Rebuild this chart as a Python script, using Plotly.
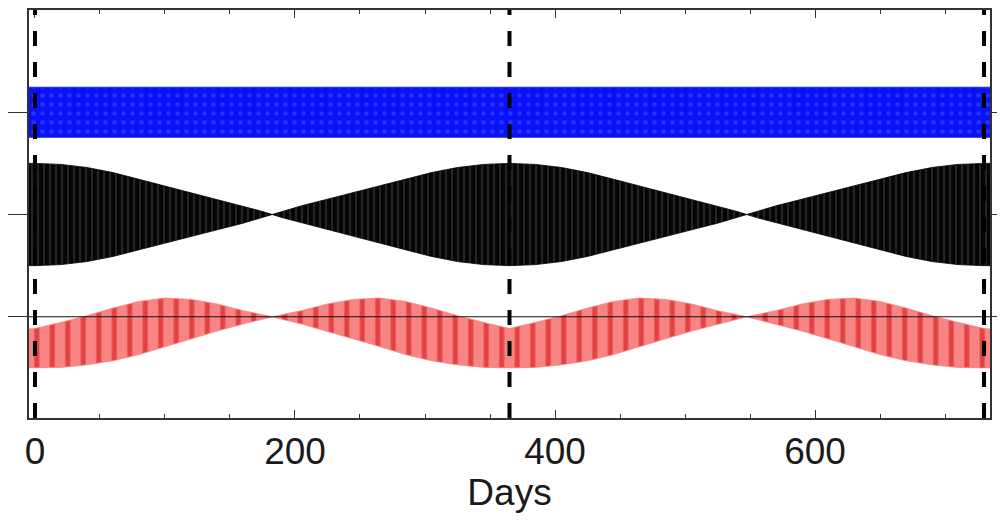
import plotly.graph_objects as go

# ---- data ----
days = [-5, 0, 20, 40, 60, 80, 100, 120, 140, 160, 175, 182.5,
        190, 205, 225, 245, 265, 285, 305, 325, 345, 365,
        385, 405, 425, 445, 465, 485, 505, 525, 540, 547.5,
        555, 570, 590, 610, 630, 650, 670, 690, 710, 730, 735]

red_upper = [-0.12, -0.115, -0.055, 0.01, 0.085, 0.15, 0.183, 0.17, 0.125, 0.06, 0.02, 0.0,
             0.02, 0.06, 0.125, 0.17, 0.183, 0.15, 0.085, 0.01, -0.055, -0.115,
             -0.055, 0.01, 0.085, 0.15, 0.183, 0.17, 0.125, 0.06, 0.02, 0.0,
             0.02, 0.06, 0.125, 0.17, 0.183, 0.15, 0.085, 0.01, -0.055, -0.115, -0.12]

red_lower = [-0.5, -0.5, -0.495, -0.47, -0.43, -0.37, -0.29, -0.215, -0.14, -0.07, -0.025, 0.0,
             -0.025, -0.07, -0.14, -0.215, -0.29, -0.37, -0.43, -0.47, -0.495, -0.5,
             -0.495, -0.47, -0.43, -0.37, -0.29, -0.215, -0.14, -0.07, -0.025, 0.0,
             -0.025, -0.07, -0.14, -0.215, -0.29, -0.37, -0.43, -0.47, -0.495, -0.5, -0.5]

black_half = [0.5, 0.5, 0.49, 0.46, 0.41, 0.345, 0.28, 0.215, 0.15, 0.085, 0.03, 0.0,
              0.03, 0.085, 0.15, 0.215, 0.28, 0.345, 0.41, 0.46, 0.49, 0.5,
              0.49, 0.46, 0.41, 0.345, 0.28, 0.215, 0.15, 0.085, 0.03, 0.0,
              0.03, 0.085, 0.15, 0.215, 0.28, 0.345, 0.41, 0.46, 0.49, 0.5, 0.5]

blue_days = [-5, 735]
blue_half = [0.245, 0.245]

band_centers = [2, 1, 0]          # blue, black, red
marker_days = [0, 365, 730]
x_ticks = [0, 200, 400, 600]

# ---- figure ----
fig = go.Figure()

def band(xs, lo, hi, fill, pattern, line_color):
    return go.Scatter(
        x=list(xs) + list(xs)[::-1],
        y=list(hi) + list(lo)[::-1],
        mode="lines", fill="toself",
        fillcolor=fill, fillpattern=pattern,
        line=dict(color=line_color, width=0.8),
        hoverinfo="skip", showlegend=False)

c_blue, c_black, c_red = band_centers

fig.add_trace(band(blue_days,
                   [c_blue - h for h in blue_half],
                   [c_blue + h for h in blue_half],
                   "#0a10fa",
                   dict(shape=".", fgcolor="#3a5cff", bgcolor="#0a10fa", size=9, solidity=0.2),
                   "#0a10fa"))

fig.add_trace(band(days,
                   [c_black - h for h in black_half],
                   [c_black + h for h in black_half],
                   "#000000",
                   dict(shape="|", fgcolor="#4a4a4a", bgcolor="#050505", size=6, solidity=0.3),
                   "#000000"))

fig.add_trace(band(days,
                   [c_red + v for v in red_lower],
                   [c_red + v for v in red_upper],
                   "#f88080",
                   dict(shape="|", fgcolor="#cc0000", bgcolor="#f88484", size=15.5, solidity=0.32),
                   "#f88080"))

shapes = [dict(type="line", xref="paper", yref="y", x0=0, x1=1, y0=c_red, y1=c_red,
               line=dict(color="#111", width=1.2), layer="above")]
for d in marker_days:
    shapes.append(dict(type="line", xref="x", yref="paper", x0=d, x1=d, y0=0, y1=1,
                       line=dict(color="#000", width=4, dash="15px,16px"), layer="above"))

fig.update_layout(
    width=997, height=514,
    margin=dict(l=21, r=15, t=2, b=104, autoexpand=False),
    paper_bgcolor="white", plot_bgcolor="white",
    shapes=shapes,
    font=dict(family="Liberation Sans, Arial, sans-serif", color="#1a1a1a"),
    xaxis=dict(range=[-4.6, 734.6], tickvals=x_ticks, ticks="inside", ticklen=8,
               tickcolor="#333", tickwidth=1.2, automargin=False,
               minor=dict(dtick=50, tick0=0, ticks="inside", ticklen=4, tickcolor="#333"),
               showline=True, linecolor="#333", linewidth=1.5, mirror="ticks",
               showgrid=False, zeroline=False,
               tickfont=dict(size=37), title=dict(text="Days", font=dict(size=37), standoff=4)),
    yaxis=dict(range=[-0.99, 3.0], tickvals=band_centers, showticklabels=False,
               ticks="outside", ticklen=21, tickcolor="#333", tickwidth=1.2, automargin=False,
               showline=True, linecolor="#333", linewidth=1.5, mirror="ticks",
               showgrid=False, zeroline=False),
)

fig.write_html("out.html")
